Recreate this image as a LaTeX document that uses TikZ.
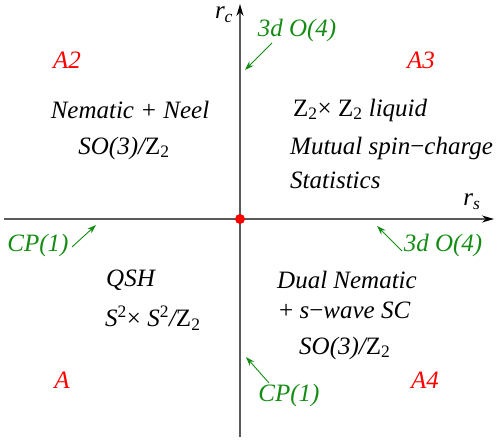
\documentclass[tikz,border=0pt]{standalone}
\usepackage{fontspec}
\setmainfont{Liberation Serif}
\usetikzlibrary{arrows.meta}
\definecolor{grn}{RGB}{20,140,20}
\definecolor{axisgray}{RGB}{90,90,90}
\tikzset{
  txt/.style={font=\fontsize{25}{28}\selectfont\itshape, inner sep=0pt},
  lab/.style={txt, text=black},
  phase/.style={txt, text=red},
  crit/.style={txt, text=grn},
  critarrow/.style={draw=grn, line width=0.9pt, -{Stealth[length=9pt,width=6pt]}},
  axis/.style={draw=axisgray, line width=1.4pt, -{Stealth[length=12pt,width=7pt,color=black]}}
}
\newcommand{\Zt}{{\upshape Z}\textsubscript{\upshape 2}}
\begin{document}
\begin{tikzpicture}[x=1pt,y=-1pt]
\useasboundingbox (0,0) rectangle (500,443);
% axes
\coordinate (vb) at (240,437);
\coordinate (vt) at (240,4);
\coordinate (hl) at (4,219);
\coordinate (hr) at (494,219);
\draw[axis] (vb) -- (vt);
\draw[axis] (hl) -- (hr);
\node[fill=red, circle, inner sep=0pt, minimum size=10pt] (origin) at (240,219) {};
% axis labels
\node[lab] (rc) at (224,15) {r\textsubscript{c}};
\node[lab] (rs) at (472,202) {r\textsubscript{s}};
% phase labels
\node[phase] (A2) at (67,60) {A2};
\node[phase] (A3) at (421,60) {A3};
\node[phase] (A) at (62,380) {A};
\node[phase] (A4) at (425,380) {A4};
% quadrant texts
\node[lab] (nn) at (130,110) {Nematic + Neel};
\node[lab] (so1) at (124,148) {SO(3)/\Zt};
\node[lab, anchor=west] (z2) at (293,110) {\Zt{\upshape ×} \Zt\ liquid};
\node[lab, anchor=west] (mut) at (290,148) {Mutual spin{\upshape −}charge};
\node[lab, anchor=west] (stat) at (290,180) {Statistics};
\node[lab, anchor=west] (qsh) at (106,280) {QSH};
\node[lab, anchor=west] (s2) at (105,318) {S\textsuperscript{\upshape 2}{\upshape ×} S\textsuperscript{\upshape 2}/\Zt};
\node[lab, anchor=west] (dn) at (277,280) {Dual Nematic};
\node[lab, anchor=west] (sw) at (279,310) {{\upshape +} s{\upshape −}wave SC};
\node[lab, anchor=west] (so2) at (299,348) {SO(3)/\Zt};
% critical points
\node[crit] (o4t) at (297,30) {3d O(4)};
\node[crit] (cpl) at (38,245) {CP(1)};
\node[crit] (o4r) at (443,245) {3d O(4)};
\node[crit] (cpb) at (289,395) {CP(1)};
\coordinate (o4tend) at (245,70);
\coordinate (cplend) at (96,225);
\coordinate (o4rend) at (377,226);
\coordinate (cpbend) at (246,357);
\coordinate (o4tstart) at (272,43);
\coordinate (cplstart) at (72,247);
\coordinate (o4rstart) at (402,251);
\coordinate (cpbstart) at (269,383);
\draw[critarrow] (o4tstart) -- (o4tend);
\draw[critarrow] (cplstart) -- (cplend);
\draw[critarrow] (o4rstart) -- (o4rend);
\draw[critarrow] (cpbstart) -- (cpbend);
\end{tikzpicture}
\end{document}
